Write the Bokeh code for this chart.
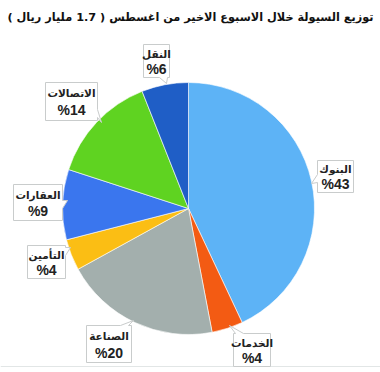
import numpy as np
from bokeh.plotting import figure
from bokeh.models import Range1d, ColumnDataSource
from bokeh.core.properties import value
from bokeh.embed import file_html
from bokeh.resources import INLINE

# ---------------- data ----------------
title = "\u200fتوزيع السيولة خلال الاسبوع الاخير من اغسطس ( 1.7 مليار ريال )\u200f"
sectors = ["البنوك", "الخدمات", "الصناعة", "التأمين", "العقارات", "الاتصالات", "النقل"]
shares = [43, 4, 20, 4, 9, 14, 6]
pct_labels = ["%43", "%4", "%20", "%4", "%9", "%14", "%6"]
colors = ["#5db3f6", "#f35b13", "#a3afad", "#fbbe14", "#3a76ee", "#5fd321", "#1f5ec6"]

# ---------------- layout (pixel space, y downwards) ----------------
W, H = 380, 372
CX, CY, R = 188, 208, 126
# box: x0, x1, y0, y1, tail side, tail base position, tip x, tip y
boxes = [
    (317, 353, 160, 192, "left", 178, 311, 183),
    (233, 270, 333, 366, "top", 239, 229, 325),
    (86, 131, 325, 362, "top", 124, 133, 320),
    (27, 65, 245, 278, "right", 251, 70, 247),
    (13, 62, 184, 220, "right", 204, 67, 200),
    (45, 97, 82, 120, "right", 113, 101, 122),
    (143, 169, 44, 77, "bottom", 163, 166, 83),
]


def fy(y):
    return H - y


p = figure(width=W, height=H, x_range=Range1d(0, W), y_range=Range1d(0, H),
           output_backend="svg", toolbar_location=None, min_border=0)
p.axis.visible = False
p.grid.visible = False
p.outline_line_color = None
p.background_fill_color = "white"
p.border_fill_color = "white"

# ---- pie wedges (clockwise from 12 o'clock) ----
fr = np.array(shares, dtype=float) / sum(shares)
cum = np.concatenate([[0], np.cumsum(fr)])
theta0 = cum[:-1] * 2 * np.pi
theta1 = cum[1:] * 2 * np.pi
src = ColumnDataSource(dict(
    start=np.pi / 2 - theta1,
    end=np.pi / 2 - theta0,
    color=colors,
    name=sectors,
))
p.wedge(x=CX, y=fy(CY), radius=R, start_angle="start", end_angle="end",
        fill_color="color", line_color="white", line_width=0.6, source=src)

# ---- bottom frame line ----
p.line(x=[0, W], y=[fy(366), fy(366)], line_color="#e2e6e6", line_width=1)

# ---- callout boxes ----
xs, ys = [], []
for (x0, x1, y0, y1, side, t, tx, ty) in boxes:
    pts = [(x0, y0)]
    if side == "top":
        pts += [(t - 4, y0), (tx, ty), (t + 4, y0)]
    pts += [(x1, y0)]
    if side == "right":
        pts += [(x1, t - 4), (tx, ty), (x1, t + 4)]
    pts += [(x1, y1)]
    if side == "bottom":
        pts += [(t + 4, y1), (tx, ty), (t - 4, y1)]
    pts += [(x0, y1)]
    if side == "left":
        pts += [(x0, t + 4), (tx, ty), (x0, t - 4)]
    xs.append([a for a, b in pts])
    ys.append([fy(b) for a, b in pts])
p.patches(xs=xs, ys=ys, fill_color="white", line_color="#c9cccc", line_width=1)

cx_l = [(b[0] + b[1]) / 2 for b in boxes]
name_y = [fy(b[2] + (b[3] - b[2]) * 0.28) for b in boxes]
pct_y = [fy(b[2] + (b[3] - b[2]) * 0.73) for b in boxes]
p.text(x=cx_l, y=name_y, text=sectors, text_align="center", text_baseline="middle",
       text_font=value("DejaVu Sans"), text_font_size="10.5px", text_font_style="bold",
       text_color="#222222")
p.text(x=cx_l, y=pct_y, text=pct_labels, text_align="center", text_baseline="middle",
       text_font=value("Liberation Sans"), text_font_size="14px", text_font_style="bold",
       text_color="#222222")

# ---- title ----
p.text(x=[190], y=[fy(17)], text=[title], text_align="center", text_baseline="middle",
       text_font=value("DejaVu Sans"), text_font_size="11.3px", text_font_style="bold",
       text_color="#111111")

open("out.html", "w").write(file_html(p, INLINE))
